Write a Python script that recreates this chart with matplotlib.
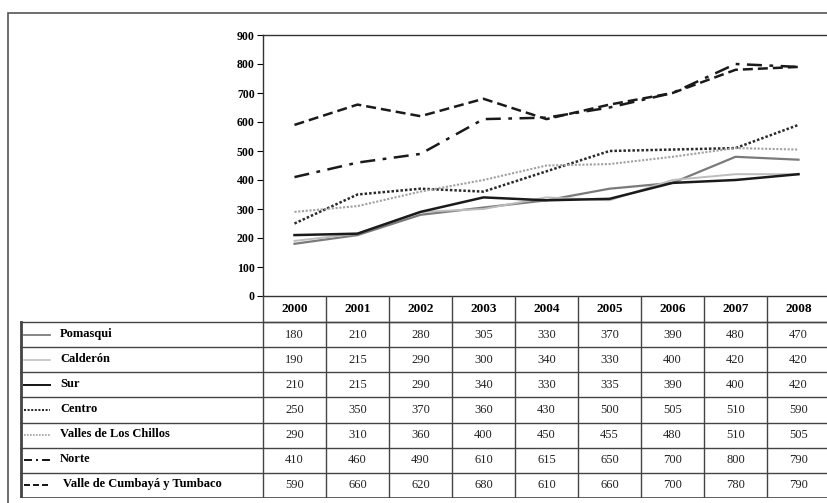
import matplotlib.pyplot as plt
from matplotlib.patches import Rectangle
from matplotlib.lines import Line2D

plt.rcParams['font.family'] = ['Liberation Serif', 'DejaVu Serif']

years = ["2000", "2001", "2002", "2003", "2004", "2005", "2006", "2007", "2008"]
pomasqui = [180, 210, 280, 305, 330, 370, 390, 480, 470]
calderon = [190, 215, 290, 300, 340, 330, 400, 420, 420]
sur = [210, 215, 290, 340, 330, 335, 390, 400, 420]
centro = [250, 350, 370, 360, 430, 500, 505, 510, 590]
chillos = [290, 310, 360, 400, 450, 455, 480, 510, 505]
norte = [410, 460, 490, 610, 615, 650, 700, 800, 790]
cumbaya = [590, 660, 620, 680, 610, 660, 700, 780, 790]

names = ["Pomasqui", "Calderón", "Sur", "Centro", "Valles de Los Chillos",
         "Norte", "Valle de Cumbayá y Tumbaco"]
series = [pomasqui, calderon, sur, centro, chillos, norte, cumbaya]
styles = [
    dict(color="#7a7a7a", lw=1.6, ls="-"),
    dict(color="#bdbdbd", lw=1.4, ls="-"),
    dict(color="#1a1a1a", lw=1.8, ls="-"),
    dict(color="#2a2a2a", lw=1.8, ls=(0, (1, 0.8))),
    dict(color="#a0a0a0", lw=1.5, ls=(0, (1, 0.8))),
    dict(color="#1a1a1a", lw=1.8, ls=(0, (6, 3, 1.5, 3))),
    dict(color="#1a1a1a", lw=1.8, ls=(0, (4, 2))),
]
# shorter patterns for the small samples in the table
sample_ls = ["-", "-", "-", (0, (1, 0.8)), (0, (1, 0.8)), (0, (4, 2, 1, 2)), (0, (3, 1.5))]

W, H = 827, 503
fig = plt.figure(figsize=(W / 100, H / 100), dpi=100)

# outer frame
fig.patches.append(Rectangle((8 / W, -0.1), 1.0, 1 - 13 / H + 0.1, transform=fig.transFigure,
                             fill=False, ec="#555555", lw=1.2))

# chart area (columns are 63 px wide starting at x=263)
left, right, top, bottom = 263, 263 + 9 * 63, 35, 296
ax = fig.add_axes([left / W, 1 - bottom / H, (right - left) / W, (bottom - top) / H])
x = list(range(len(years)))
for vals, st in zip(series, styles):
    ax.plot(x, vals, color=st["color"], lw=st["lw"], linestyle=st["ls"])
ax.set_xlim(-0.5, len(years) - 0.5)
ax.set_ylim(0, 900)
ax.set_yticks(range(0, 901, 100))
ax.set_xticks([])
ax.tick_params(axis="y", direction="out", length=4, width=0.8, pad=2, labelsize=8.5)
for lab in ax.get_yticklabels():
    lab.set_fontweight("bold")
for sp in ax.spines.values():
    sp.set_color("#333333")
    sp.set_linewidth(1.0)

# data table
t_left, t_right, t_top, t_bot = 20, right, 296, 498
tab = fig.add_axes([t_left / W, 1 - t_bot / H, (t_right - t_left) / W, (t_bot - t_top) / H])
tab.set_xlim(0, t_right - t_left)
tab.set_ylim(t_bot - t_top, 0)
tab.axis("off")

col0 = left - t_left
header_h = 26
row_h = (t_bot - t_top - header_h) / len(names)
lc = "#444444"

# header row
tab.plot([col0, t_right - t_left], [header_h, header_h], color=lc, lw=1.0)
for i, yr in enumerate(years):
    cx = col0 + 63 * i + 31.5
    tab.text(cx, header_h / 2, yr, ha="center", va="center", fontsize=9.5, fontweight="bold")
# vertical lines
for i in range(len(years) + 1):
    xv = col0 + 63 * i
    tab.plot([xv, xv], [0, t_bot - t_top], color=lc, lw=1.0)
tab.plot([1, 1], [header_h, t_bot - t_top], color=lc, lw=2.0)
tab.plot([0, t_right - t_left], [t_bot - t_top - 0.5, t_bot - t_top - 0.5], color=lc, lw=1.2)

for r, (name, vals, st) in enumerate(zip(names, series, styles)):
    y0 = header_h + r * row_h
    yc = y0 + row_h / 2
    tab.plot([0, t_right - t_left], [y0, y0], color=lc, lw=1.0)
    tab.add_line(Line2D([4, 30], [yc, yc], color=st["color"], lw=st["lw"] * 0.8, linestyle=sample_ls[r]))
    tab.text(40 if r != 6 else 43, yc - 1, name, ha="left", va="center", fontsize=9, fontweight="bold")
    for i, v in enumerate(vals):
        cx = col0 + 63 * i + 31.5
        tab.text(cx, yc, str(v), ha="center", va="center", fontsize=9, color="#222222")

fig.savefig("out.png", dpi=100)
